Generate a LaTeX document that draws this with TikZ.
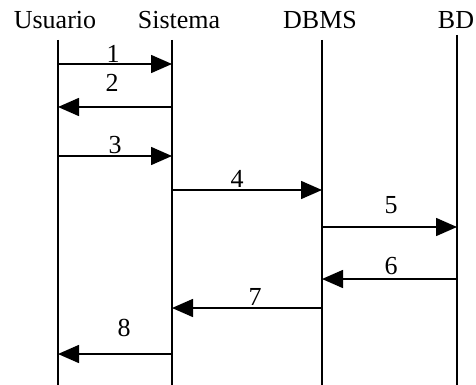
\documentclass[tikz,border=0pt]{standalone}
\usepackage{fontspec}
\setmainfont{Liberation Serif}
\usetikzlibrary{arrows.meta}

\begin{document}
\begin{tikzpicture}[x=0.5pt,y=0.5pt,
  actor/.style={anchor=base,font=\fontsize{13}{15}\selectfont},
  lifeline/.style={line width=1pt},
  msg/.style={line width=0.8pt,-{Triangle[length=10.5pt,width=9pt]}},
  num/.style={font=\fontsize{13}{15}\selectfont,inner sep=0pt}]
\useasboundingbox (0,0) rectangle (476,-385);

% actors
\node[actor] (usr) at (55,-29) {Usuario};
\node[actor] (sis) at (179,-29) {Sistema};
\node[actor] (dbms) at (320,-29) {DBMS};
\node[actor] (bd) at (456,-29) {BD};

% lifelines
\foreach \n/\x/\t in {u/58/40, s/172/40, d/322/40, b/457/35} {
  \coordinate (\n top) at (\x,-\t);
  \coordinate (\n bot) at (\x,-385);
  \draw[lifeline] (\n top) -- (\n bot);
}

% messages: number/from/to/row/label x/label y
\foreach \i/\a/\b/\y/\lx/\ly in {1/u/s/64/113/54, 2/s/u/107/112/83,
    3/u/s/156/115/145, 4/s/d/190/237/179, 5/d/b/227/391/205,
    6/b/d/279/391/266, 7/d/s/308/255/297, 8/s/u/354/124/328} {
  \coordinate (m\i from) at (\a top |- 0,-\y);
  \coordinate (m\i to) at (\b top |- 0,-\y);
  \draw[msg] (m\i from) -- (m\i to);
  \node[num] (n\i) at (\lx,-\ly) {\i};
}
\end{tikzpicture}
\end{document}
